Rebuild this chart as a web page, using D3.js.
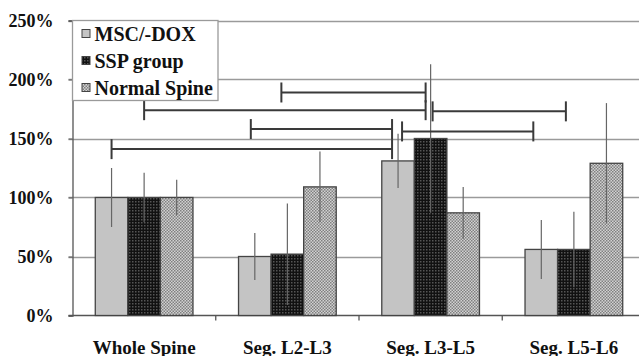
<!DOCTYPE html>
<html>
<head>
<meta charset="utf-8">
<script src="https://cdn.jsdelivr.net/npm/d3@7"></script>
<style>
html,body{margin:0;padding:0;background:#fff;}
svg{display:block;}
</style>
</head>
<body>
<svg id="chart" width="639" height="356"></svg>
<script>
// ---- data ----
const categories = ["Whole Spine", "Seg. L2-L3", "Seg. L3-L5", "Seg. L5-L6"];
const seriesNames = ["MSC/-DOX", "SSP group", "Normal Spine"];
const mscValues = [100, 50, 131, 56];
const mscErrors = [25, 20, 23, 25];
const sspValues = [100, 52, 150, 56];
const sspErrors = [21, 43, 63, 32];
const normalValues = [100, 109, 87, 129];
const normalErrors = [15, 30, 22, 51];
const yTicks = [0, 50, 100, 150, 200, 250];
// significance brackets: [fromCategory, fromSeries, toCategory, toSeries, level %]
const brackets = [
  [0, 0, 2, 0, 141],
  [1, 0, 2, 0, 158],
  [2, 0, 3, 0, 156],
  [0, 1, 2, 1, 174],
  [2, 1, 3, 1, 173],
  [1, 1, 2, 1, 189]
];

// ---- drawing ----
(function () {
const FONT = "'Liberation Serif', 'Times New Roman', serif";
const setFont = (sel, size) => sel.style("font-family", FONT).style("font-weight", "bold")
  .style("font-size", size + "px").attr("fill", "#111");
const svg = d3.select("#chart");
const mLeft = 72.5, mRight = 645.5, mTop = 20.5, mBottom = 315.5;
const x = d3.scaleBand().domain(d3.range(categories.length)).range([mLeft, mRight]).paddingInner(0.318).paddingOuter(0.159);
const xs = d3.scaleBand().domain(d3.range(seriesNames.length)).range([0, x.bandwidth()]);
const y = d3.scaleLinear().domain([0, 250]).range([mBottom, mTop]);

const defs = svg.append("defs");
const p1 = defs.append("pattern").attr("id", "pSSP").attr("patternUnits", "userSpaceOnUse").attr("width", 3).attr("height", 3);
p1.append("rect").attr("width", 3).attr("height", 3).attr("fill", "#111");
p1.append("rect").attr("width", 1.5).attr("height", 1.5).attr("fill", "#555");
const p2 = defs.append("pattern").attr("id", "pNorm").attr("patternUnits", "userSpaceOnUse").attr("width", 3).attr("height", 3);
p2.append("rect").attr("width", 3).attr("height", 3).attr("fill", "#d2d2d2");
p2.append("rect").attr("width", 1.5).attr("height", 1.5).attr("fill", "#808080");
p2.append("rect").attr("x", 1.5).attr("y", 1.5).attr("width", 1.5).attr("height", 1.5).attr("fill", "#808080");
const fills = ["#c4c4c4", "url(#pSSP)", "url(#pNorm)"];

// gridlines
svg.append("g").selectAll("line").data(yTicks.filter(d => d > 0)).join("line")
  .attr("x1", mLeft - 4).attr("x2", 639).attr("y1", d => Math.round(y(d)) + 0.5).attr("y2", d => Math.round(y(d)) + 0.5)
  .attr("stroke", "#9a9a9a").attr("stroke-width", 1.5);

// y axis
const yAxis = svg.append("g").attr("transform", `translate(${mLeft},0)`)
  .call(d3.axisLeft(y).tickValues(yTicks).tickFormat(d => d + "%").tickSize(4).tickPadding(15));
yAxis.attr("font-family", null).attr("font-size", null);
yAxis.select(".domain").attr("stroke", "#555").attr("stroke-width", 1.3);
yAxis.selectAll(".tick line").attr("stroke", "#555");
setFont(yAxis.selectAll("text"), 18);

// x axis
const xAxisG = svg.append("g").attr("transform", `translate(0,${mBottom})`);
xAxisG.append("line").attr("x1", mLeft - 4).attr("x2", 639).attr("stroke", "#555").attr("stroke-width", 1.3);
const step = x.step();
xAxisG.selectAll("line.tk").data(d3.range(1, categories.length)).join("line").attr("class", "tk")
  .attr("x1", d => x(d) - x.paddingInner() * step / 2).attr("x2", d => x(d) - x.paddingInner() * step / 2)
  .attr("y1", 0).attr("y2", 5).attr("stroke", "#555").attr("stroke-width", 1.3);
setFont(xAxisG.selectAll("text").data(categories).join("text")
  .attr("x", (d, i) => x(i) + x.bandwidth() / 2).attr("y", 38)
  .attr("text-anchor", "middle"), 19).text(d => d);

// bars
const valueSets = [mscValues, sspValues, normalValues];
const errorSets = [mscErrors, sspErrors, normalErrors];
const barData = [];
categories.forEach((c, ci) => seriesNames.forEach((s, si) => barData.push({ ci, si, v: valueSets[si][ci], e: errorSets[si][ci] })));
const cx = d => x(d.ci) + xs(d.si) + xs.bandwidth() / 2;
svg.append("g").selectAll("rect").data(barData).join("rect")
  .attr("x", d => x(d.ci) + xs(d.si)).attr("width", xs.bandwidth())
  .attr("y", d => y(d.v)).attr("height", d => y(0) - y(d.v))
  .attr("fill", d => fills[d.si]).attr("stroke", "#444").attr("stroke-width", 1.3);

// error bars
svg.append("g").selectAll("line").data(barData).join("line")
  .attr("x1", cx).attr("x2", cx).attr("y1", d => y(d.v - d.e)).attr("y2", d => y(d.v + d.e))
  .attr("stroke", "#666").attr("stroke-width", 1.2);

// significance brackets (hand-drawn offsets)
const nudges = [[0, -6], [-4, -6], [4, -8], [0, -5], [2, -8], [-6, -5]];
const capH = 10;
const bg = svg.append("g").attr("stroke", "#3a3a3a").attr("stroke-width", 2);
brackets.forEach((b, i) => {
  const x1 = cx({ ci: b[0], si: b[1] }) + nudges[i][0];
  const x2 = cx({ ci: b[2], si: b[3] }) + nudges[i][1];
  const yy = y(b[4]);
  bg.append("line").attr("x1", x1).attr("x2", x2).attr("y1", yy).attr("y2", yy);
  bg.append("line").attr("x1", x1).attr("x2", x1).attr("y1", yy - capH).attr("y2", yy + capH);
  bg.append("line").attr("x1", x2).attr("x2", x2).attr("y1", yy - capH).attr("y2", yy + capH);
});

// legend
const lg = svg.append("g");
lg.append("rect").attr("x", mLeft).attr("y", mTop).attr("width", 145.5).attr("height", 80)
  .attr("fill", "#fff").attr("stroke", "#9a9a9a").attr("stroke-width", 1.3);
seriesNames.forEach((s, i) => {
  const ry = mTop + 13 + i * 27;
  lg.append("rect").attr("x", mLeft + 9.5).attr("y", ry - 4).attr("width", 8).attr("height", 8)
    .attr("fill", fills[i]).attr("stroke", "#444").attr("stroke-width", 1);
  setFont(lg.append("text").attr("x", mLeft + 22).attr("y", ry + 7), 20).text(s);
});
})();
</script>
</body>
</html>
